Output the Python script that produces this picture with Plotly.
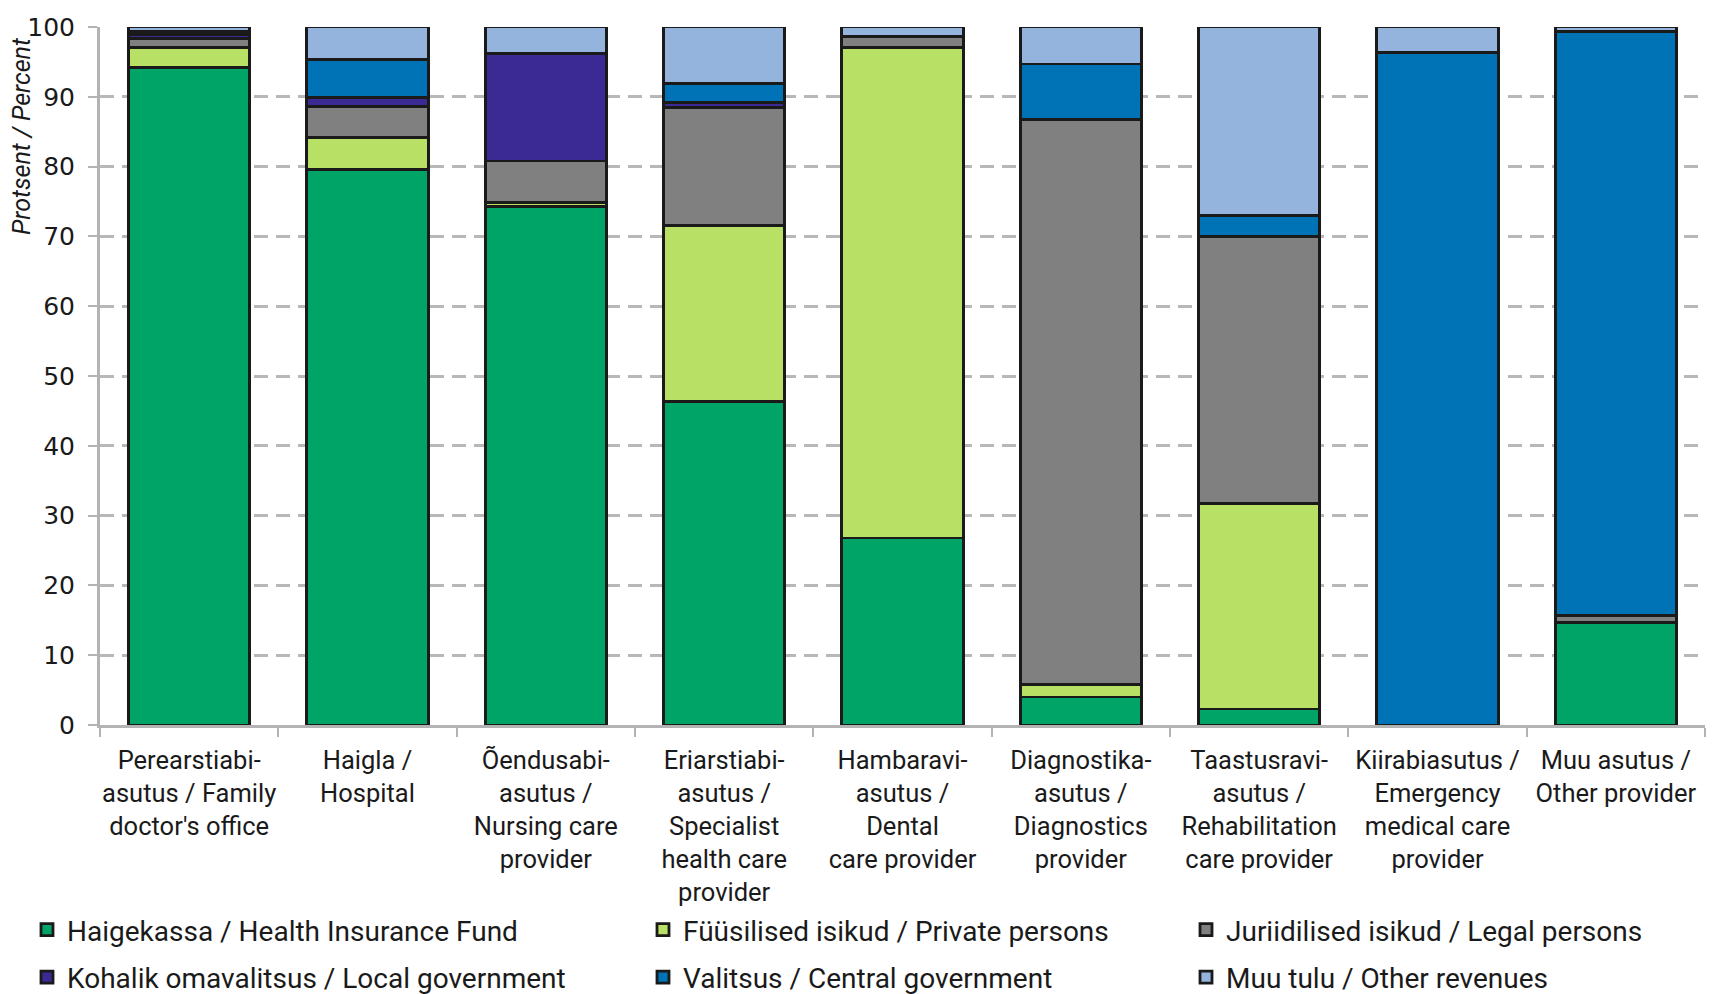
import plotly.graph_objects as go

categories = [
    "Perearstiabi-<br>asutus / Family<br>doctor's office",
    "Haigla /<br>Hospital",
    "Õendusabi-<br>asutus /<br>Nursing care<br>provider",
    "Eriarstiabi-<br>asutus /<br>Specialist<br>health care<br>provider",
    "Hambaravi-<br>asutus /<br>Dental<br>care provider",
    "Diagnostika-<br>asutus /<br>Diagnostics<br>provider",
    "Taastusravi-<br>asutus /<br>Rehabilitation<br>care provider",
    "Kiirabiasutus /<br>Emergency<br>medical care<br>provider",
    "Muu asutus /<br>Other provider",
]

health_insurance_fund = [94.2, 79.6, 74.3, 46.3, 26.8, 4.0, 2.3, None, 14.7]
private_persons = [2.9, 4.6, 0.6, 25.3, 70.3, 1.8, 29.4, None, None]
legal_persons = [1.3, 4.4, 5.9, 16.9, 1.5, 81.0, 38.3, None, 1.0]
local_government = [0.5, 1.3, 15.4, 0.7, None, None, None, None, None]
central_government = [0.4, 5.5, None, 2.7, None, 7.9, 3.0, 96.3, 83.7]
other_revenues = [0.7, 4.6, 3.8, 8.1, 1.4, 5.3, 27.0, 3.7, 0.6]

series_names = [
    "Haigekassa / Health Insurance Fund",
    "Füüsilised isikud / Private persons",
    "Juriidilised isikud / Legal persons",
    "Kohalik omavalitsus / Local government",
    "Valitsus / Central government",
    "Muu tulu / Other revenues",
]
series_values = [health_insurance_fund, private_persons, legal_persons,
                 local_government, central_government, other_revenues]
colors = ["#00A466", "#B8E065", "#808080", "#3C2A94", "#0072B6", "#94B4DE"]
# legend column for each series (two rows of three)
legend_ids = ["legend", "legend2", "legend3", "legend", "legend2", "legend3"]

FONT = "Roboto, Liberation Sans, sans-serif"
TXT = "#1a1a1a"
W, H = 1709, 986  # page body has an 8px margin

fig = go.Figure()
for i, (name, vals, col, lg) in enumerate(zip(series_names, series_values, colors, legend_ids)):
    fig.add_trace(go.Bar(
        x=categories, y=vals, name=name, legend=lg, legendgroup=f"g{i}",
        marker=dict(color=col, line=dict(color="#1a1a1a", width=2.8)),
    ))

def legend_at(xpx):
    return dict(
        xref="container", yref="container",
        x=xpx / W, xanchor="left", y=1 - 897 / H, yanchor="top",
        orientation="v", traceorder="grouped", tracegroupgap=8,
        font=dict(family=FONT, size=28, color=TXT),
        bgcolor="rgba(0,0,0,0)",
    )

fig.update_layout(
    width=W, height=H,
    barmode="stack", bargap=0.32,
    plot_bgcolor="white", paper_bgcolor="white",
    margin=dict(l=92, r=12, t=19, b=269, autoexpand=False),
    font=dict(family=FONT, size=26, color=TXT),
    legend=legend_at(19),
    legend2=legend_at(635),
    legend3=legend_at(1178),
    xaxis=dict(
        type="category", tickson="boundaries", ticks="outside", ticklen=9,
        tickcolor="#b3b3b3", tickwidth=2, showline=True, linecolor="#b3b3b3",
        linewidth=3, showgrid=False, tickangle=0, automargin=False,
        ticklabelstandoff=10,
        tickfont=dict(family=FONT, size=25.5, color=TXT),
    ),
    yaxis=dict(
        range=[0, 100], dtick=10, ticks="outside", ticklen=9,
        tickcolor="#b3b3b3", tickwidth=2, showline=True, linecolor="#b3b3b3",
        linewidth=3, showgrid=True, gridcolor="#b8b8b8", gridwidth=2.5,
        griddash="14px,8px", zeroline=False, automargin=False,
        ticklabelstandoff=8,
        tickfont=dict(family="DejaVu Sans, sans-serif", size=25, color=TXT),
    ),
    annotations=[dict(
        text="<i>Protsent / Percent</i>", textangle=-90,
        xref="paper", yref="paper", x=0, y=1, xanchor="center", yanchor="top",
        xshift=-79, yshift=-9, showarrow=False, borderpad=0,
        font=dict(family=FONT, size=25, color=TXT),
    )],
)

fig.write_html("out.html")
